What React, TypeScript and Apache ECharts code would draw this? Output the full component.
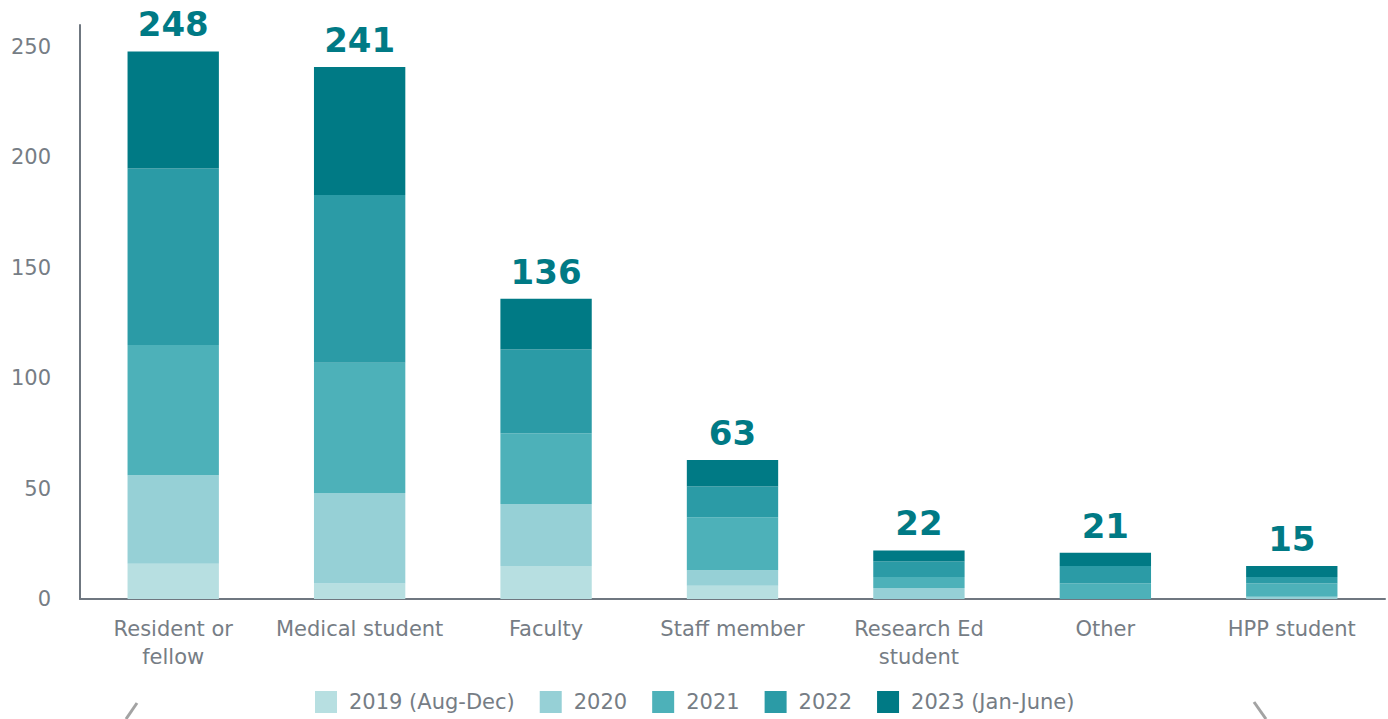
import React, { useEffect, useRef } from "react";
import * as echarts from "echarts";

const categories = [
  "Resident or\nfellow",
  "Medical student",
  "Faculty",
  "Staff member",
  "Research Ed\nstudent",
  "Other",
  "HPP student",
];
const seriesNames = ["2019 (Aug-Dec)", "2020", "2021", "2022", "2023 (Jan-June)"];
const v2019 = [16, 7, 15, 6, 0, 0, 0];
const v2020 = [40, 41, 28, 7, 5, 0, 1];
const v2021 = [59, 59, 32, 24, 5, 7, 6];
const v2022 = [80, 76, 38, 14, 7, 8, 3];
const v2023 = [53, 58, 23, 12, 5, 6, 5];
const totals = [248, 241, 136, 63, 22, 21, 15];
const yTicks = [0, 50, 100, 150, 200, 250];
const colors = ["#b7dfe1", "#96d0d6", "#4db1b9", "#2b9ba6", "#007a85"];

export default function App() {
  const ref = useRef<HTMLDivElement>(null);
  useEffect(() => {
    if (!ref.current) return;
    const chart = echarts.init(ref.current, undefined, { renderer: "svg" });
    const all = [v2019, v2020, v2021, v2022, v2023];
    const font = "'DejaVu Sans', 'Open Sans', sans-serif";
    const textColor = "#767d85";
    chart.setOption({
      animation: false,
      textStyle: { fontFamily: font },
      grid: { left: 80, right: 3, top: 25, bottom: 120, containLabel: false },
      legend: {
        bottom: 1,
        left: 310,
        itemWidth: 22,
        itemHeight: 22,
        itemGap: 25,
        icon: "rect",
        textStyle: { fontSize: 21, color: textColor, fontFamily: font, padding: [0, 0, 0, 7] },
        data: seriesNames,
      },
      xAxis: {
        type: "category",
        data: categories,
        axisLine: { show: true, lineStyle: { color: "#6f7780", width: 2 } },
        axisTick: { show: false },
        axisLabel: {
          interval: 0,
          margin: 16,
          fontSize: 21,
          lineHeight: 28,
          color: textColor,
          fontFamily: font,
        },
      },
      yAxis: {
        type: "value",
        min: yTicks[0],
        max: 260,
        interval: 50,
        splitLine: { show: false },
        axisLine: { show: true, lineStyle: { color: "#6f7780", width: 2 } },
        axisTick: { show: false },
        axisLabel: {
          margin: 29,
          fontSize: 21,
          color: textColor,
          fontFamily: font,
          showMaxLabel: false,
        },
      },
      series: all.map((d, i) => ({
        name: seriesNames[i],
        type: "bar",
        stack: "total",
        data: d,
        barWidth: "49%",
        itemStyle: { color: colors[i] },
        label:
          i === all.length - 1
            ? {
                show: true,
                position: "top",
                distance: 10,
                fontSize: 34,
                fontWeight: "bold",
                color: "#007a85",
                fontFamily: font,
                formatter: (p: any) => String(totals[p.dataIndex]),
              }
            : { show: false },
      })),
      graphic: [
        {
          type: "line",
          shape: { x1: 137, y1: 703, x2: 126, y2: 719 },
          style: { stroke: "#a3a3a3", lineWidth: 3 },
        },
        {
          type: "line",
          shape: { x1: 1254, y1: 702, x2: 1266, y2: 719 },
          style: { stroke: "#a3a3a3", lineWidth: 3 },
        },
      ],
    });
    return () => chart.dispose();
  }, []);
  return <div ref={ref} style={{ width: 1388, height: 719, position: "absolute", left: 0, top: 0 }} />;
}
